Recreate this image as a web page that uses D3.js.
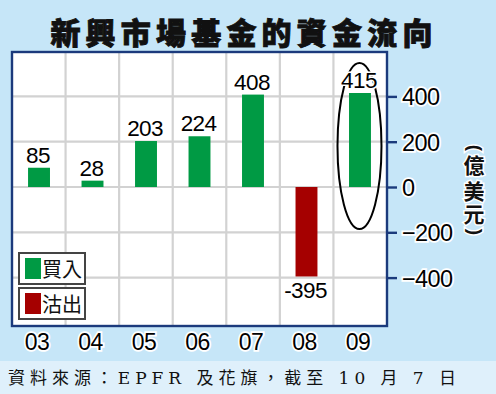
<!DOCTYPE html>
<html><head><meta charset="utf-8">
<script src="https://cdn.jsdelivr.net/npm/d3@7/dist/d3.min.js"></script>
<style>body{margin:0;background:#c6e6f8;}svg{display:block}</style>
</head><body>
<svg id="c" width="496" height="394"></svg>
<script>
const years = ["03","04","05","06","07","08","09"];
const flows = [85, 28, 203, 224, 408, -395, 415];
const yTicks = [400, 200, 0, -200, -400];
const titleText = "新興市場基金的資金流向";
const unitParens = ["(", ")"];
const unitChars = ["億", "美", "元"];
const legendLabels = ["買入", "沽出"];
const sourceText = "資料來源：EPFR 及花旗，截至 10 月 7 日";

const W = 496, H = 394;
const svg = d3.select("#c");
const num = "'Liberation Sans', Arial, sans-serif";
const cjk = "'Noto Sans CJK TC', 'Noto Sans CJK SC', sans-serif";
const green = "#009a44", red = "#a50000", navy = "#1b3a7c", grid = "#d2d2d2";

svg.append("rect").attr("width", W).attr("height", H).attr("fill", "#c6e6f8");
svg.append("rect").attr("x", 0).attr("y", 361).attr("width", W).attr("height", 33).attr("fill", "#dff0fb");

// title
svg.append("text").attr("x", 244).attr("y", 44).attr("text-anchor", "middle")
  .attr("font-family", cjk).attr("font-weight", 900).attr("font-size", 30)
  .attr("letter-spacing", 5.2).attr("fill", "#111")
  .attr("stroke", "#111").attr("stroke-width", 0.9)
  .text(titleText);

const L = 12, R = 387, T = 52, B = 326;
const x = d3.scaleBand().domain(years).range([L, R]).paddingInner(0.59).paddingOuter(0.3);
const y = d3.scaleLinear().domain([-400, 400]).range([277.6, 96.4]);

svg.append("rect").attr("x", L).attr("y", T).attr("width", R - L).attr("height", B - T).attr("fill", "#fff");

// grid
const colW = (R - L) / years.length;
const vlines = d3.range(1, years.length).map(i => L + i * colW);
svg.append("g").selectAll("line").data(vlines).join("line")
  .attr("x1", d => d).attr("x2", d => d).attr("y1", T).attr("y2", B)
  .attr("stroke", grid).attr("stroke-width", 2.2);
svg.append("g").selectAll("line").data(yTicks).join("line")
  .attr("x1", L).attr("x2", R).attr("y1", d => y(d)).attr("y2", d => y(d))
  .attr("stroke", grid).attr("stroke-width", 2.2);

// bars
svg.append("g").selectAll("rect").data(flows).join("rect")
  .attr("x", (d, i) => x(years[i]))
  .attr("width", x.bandwidth())
  .attr("y", d => y(Math.max(0, d)))
  .attr("height", d => Math.abs(y(d) - y(0)))
  .attr("fill", d => d >= 0 ? green : red);

// ellipse around 09
const cx09 = x("09") + x.bandwidth() / 2;
svg.append("ellipse").attr("cx", cx09 - 0.5).attr("cy", 146).attr("rx", 22).attr("ry", 83)
  .attr("fill", "none").attr("stroke", "#000").attr("stroke-width", 2);

// value labels
svg.append("g").selectAll("text").data(flows).join("text")
  .attr("x", (d, i) => x(years[i]) + x.bandwidth() / 2 - 1)
  .attr("y", d => d >= 0 ? y(d) - 5 : y(d) + 22)
  .attr("text-anchor", "middle").attr("font-family", num).attr("font-size", 22.5)
  .attr("fill", "#000").attr("stroke", "#fff").attr("stroke-width", 3)
  .attr("paint-order", "stroke").attr("letter-spacing", -0.6)
  .text(d => d);

// frame
svg.append("rect").attr("x", L).attr("y", T).attr("width", R - L).attr("height", B - T)
  .attr("fill", "none").attr("stroke", navy).attr("stroke-width", 2.4);

// right axis
const axis = d3.axisRight(y).tickValues(yTicks).tickSize(10).tickPadding(5);
const ag = svg.append("g").attr("transform", `translate(${R},0)`).call(axis);
ag.select(".domain").remove();
ag.selectAll(".tick line").attr("stroke", navy).attr("stroke-width", 2.4);
ag.selectAll(".tick text").attr("font-family", num).attr("font-size", 23.5)
  .attr("fill", "#000").attr("stroke", "#fff").attr("stroke-width", 3.5)
  .attr("paint-order", "stroke").attr("letter-spacing", -0.6).attr("dy", "0.36em");

// unit label (vertical): sideways parentheses + stacked characters
const parenY = [148, 232];
svg.append("g").selectAll("g").data(unitParens).join("g")
  .attr("transform", (d, i) => `translate(474,${parenY[i]}) rotate(90)`)
  .append("text").attr("text-anchor", "middle").attr("y", 5)
  .attr("font-family", num).attr("font-weight", 700).attr("font-size", 19)
  .attr("fill", "#111").attr("stroke", "#fff").attr("stroke-width", 3).attr("paint-order", "stroke")
  .text(d => d);
const charY = [166, 192, 215];
svg.append("text").attr("text-anchor", "middle")
  .attr("font-family", cjk).attr("font-weight", 700).attr("font-size", 21)
  .attr("fill", "#111").attr("stroke", "#fff").attr("stroke-width", 3).attr("paint-order", "stroke")
  .selectAll("tspan").data(unitChars).join("tspan")
  .attr("x", 474).attr("y", (d, i) => charY[i] + 7.3)
  .text(d => d);

// x labels
svg.append("g").selectAll("text").data(years).join("text")
  .attr("x", d => x(d) + x.bandwidth() / 2 - 2).attr("y", 350)
  .attr("text-anchor", "middle").attr("font-family", num).attr("font-size", 23)
  .attr("fill", "#000").attr("stroke", "#fff").attr("stroke-width", 3.5)
  .attr("paint-order", "stroke").attr("letter-spacing", -0.6)
  .text(d => d);

// legend
const legY = [253, 288];
const lg = svg.append("g").selectAll("g").data(legendLabels).join("g")
  .attr("transform", (d, i) => `translate(19,${legY[i]})`);
lg.append("rect").attr("width", 66).attr("height", 31).attr("fill", "#fff")
  .attr("stroke", "#444").attr("stroke-width", 2);
lg.append("rect").attr("x", 6).attr("y", 5).attr("width", 16).attr("height", 21)
  .attr("fill", (d, i) => i === 0 ? green : red);
lg.append("text").attr("x", 23).attr("y", 24).attr("font-family", cjk).attr("font-size", 20)
  .attr("fill", "#111").text(d => d);

// source
svg.append("text").attr("x", 8).attr("y", 384)
  .attr("font-family", "'DejaVu Serif', 'Noto Sans CJK TC', serif").attr("font-size", 17)
  .attr("fill", "#111").attr("textLength", 448).attr("lengthAdjust", "spacing")
  .text(sourceText);
</script>
</body></html>
